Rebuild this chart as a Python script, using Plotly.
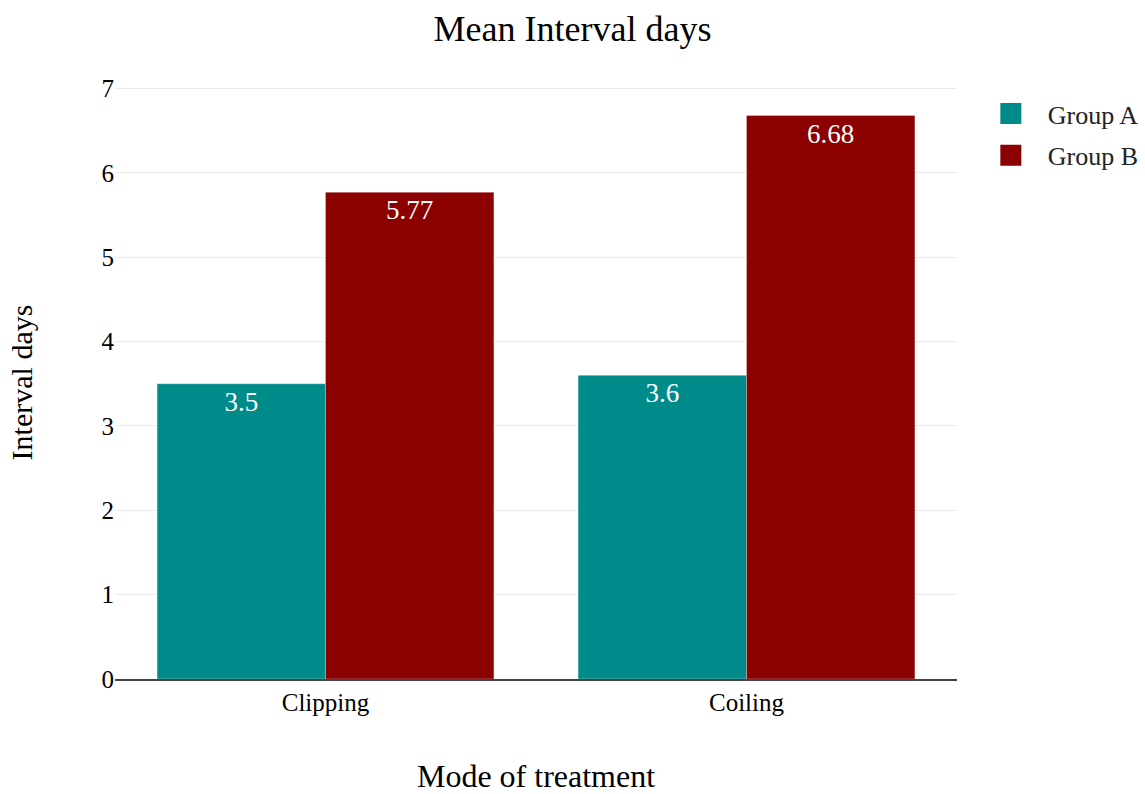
import plotly.graph_objects as go

categories = ["Clipping", "Coiling"]
group_a = [3.5, 3.6]
group_b = [5.77, 6.68]
series_names = ["Group A", "Group B"]
series_colors = ["#008B8B", "#8B0000"]

FONT = "Liberation Serif"

fig = go.Figure()
for name, values, color in zip(series_names, [group_a, group_b], series_colors):
    fig.add_trace(go.Bar(
        name=name, x=categories, y=values, showlegend=False, legendgroup=name,
        marker=dict(color=color, line=dict(color="rgba(255,255,255,0.6)", width=0.5)),
        text=[str(v) for v in values], textposition="inside", insidetextanchor="end",
        textfont=dict(color="white", size=27, family=FONT),
    ))

# Legend entries with larger square swatches
for name, color in zip(series_names, series_colors):
    fig.add_trace(go.Scatter(
        name=name, x=[None], y=[None], mode="markers", legendgroup=name,
        marker=dict(symbol="square", size=22, color=color,
                    line=dict(color=color, width=5)),
    ))

fig.update_layout(
    width=1145, height=794,
    template="plotly_white",
    barmode="group", bargap=0.2, bargroupgap=0,
    font=dict(family=FONT, size=24, color="#222"),
    title=dict(text="Mean Interval days", x=0.5, xanchor="center",
               y=1 - 28 / 794, yanchor="middle",
               font=dict(size=36, family=FONT, color="black")),
    margin=dict(l=115, r=188, t=86, b=115, autoexpand=False),
    legend=dict(x=1.020, y=0.993, xanchor="left", yanchor="top",
                font=dict(size=26, family=FONT, color="#222"), itemwidth=64,
                tracegroupgap=5),
    xaxis=dict(title=dict(text="Mode of treatment", standoff=55,
                          font=dict(size=32, family=FONT, color="black")),
               tickfont=dict(size=25, family=FONT, color="black"),
               automargin=False,
               showline=True, linecolor="#444", linewidth=1.5, showgrid=False),
    yaxis=dict(title=dict(text="Interval days", standoff=60,
                          font=dict(size=30, family=FONT, color="black")),
               tickfont=dict(size=25, family=FONT, color="black"),
               automargin=False,
               range=[0, 7.03], dtick=1, gridcolor="#ebebeb", zeroline=False,
               ticklen=0),
)

fig.write_html("out.html")
